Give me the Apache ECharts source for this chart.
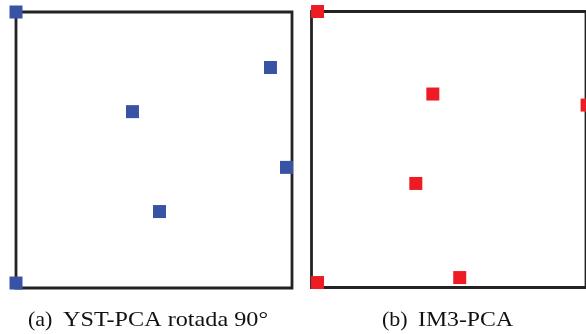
<!DOCTYPE html>
<html>
<head>
<meta charset="utf-8">
<style>
  html, body { margin: 0; padding: 0; background: #fff; }
  #chart { width: 586px; height: 334px; }
</style>
<script src="https://cdn.jsdelivr.net/npm/echarts@6/dist/echarts.min.js"></script>
</head>
<body>
<div id="chart"></div>
<script>
// Normalised projected coordinates (x, y in [0, 1]) for each panel
const ystX = [0.00, 0.00, 0.922, 0.422, 0.980, 0.520];
const ystY = [1.00, 0.018, 0.799, 0.639, 0.437, 0.277];

const im3X = [0.022, 0.022, 0.442, 1.004, 0.380, 0.540];
const im3Y = [1.00, 0.018, 0.701, 0.661, 0.377, 0.036];

const captionTags = ['(a)', '(b)'];
const captionNames = ['YST-PCA rotada 90°', 'IM3-PCA'];

const pairs = (xs, ys) => xs.map((x, i) => [x, ys[i]]);

const chart = echarts.init(document.getElementById('chart'), null, { renderer: 'canvas' });

const hiddenAxis = (gridIndex) => ({
  type: 'value', gridIndex, min: 0, max: 1,
  axisLine: { show: false }, axisTick: { show: false },
  axisLabel: { show: false }, splitLine: { show: false }
});

const captionFont = '22px "Liberation Serif", "Times New Roman", serif';

chart.setOption({
  animation: false,
  backgroundColor: '#ffffff',
  grid: [
    { left: 16, top: 12, width: 276, height: 276, show: true, borderColor: '#232323', borderWidth: 2.8, backgroundColor: 'transparent' },
    { left: 311.5, top: 11.5, width: 276, height: 276, show: true, borderColor: '#232323', borderWidth: 2.8, backgroundColor: 'transparent' }
  ],
  xAxis: [hiddenAxis(0), hiddenAxis(1)],
  yAxis: [hiddenAxis(0), hiddenAxis(1)],
  series: [
    {
      type: 'scatter', xAxisIndex: 0, yAxisIndex: 0, clip: false,
      symbol: 'rect', symbolSize: 13, z: 5,
      itemStyle: { color: '#3953a4', opacity: 1 },
      data: pairs(ystX, ystY)
    },
    {
      type: 'scatter', xAxisIndex: 1, yAxisIndex: 1, clip: false,
      symbol: 'rect', symbolSize: 13, z: 5,
      itemStyle: { color: '#ed1c24', opacity: 1 },
      data: pairs(im3X, im3Y)
    }
  ],
  graphic: [
    { type: 'text', x: 28, y: 309, style: { text: captionTags[0], font: captionFont, fill: '#111' } },
    { type: 'text', x: 63, y: 309, scaleX: 1.1, style: { text: captionNames[0], font: captionFont, fill: '#111' } },
    { type: 'text', x: 382, y: 309, style: { text: captionTags[1], font: captionFont, fill: '#111' } },
    { type: 'text', x: 418, y: 309, scaleX: 1.08, style: { text: captionNames[1], font: captionFont, fill: '#111' } }
  ]
});
</script>
</body>
</html>
